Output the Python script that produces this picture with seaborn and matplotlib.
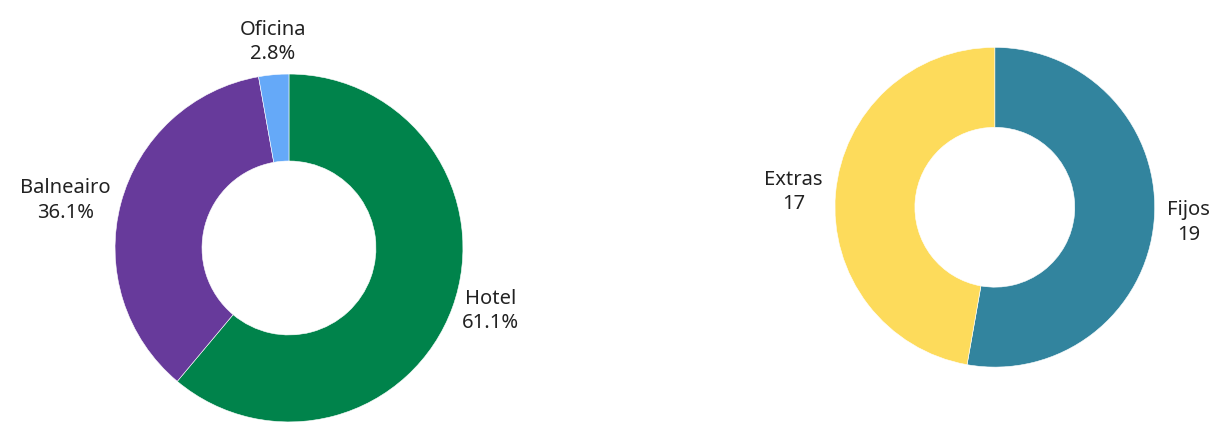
import numpy as np
import seaborn as sns
import matplotlib
matplotlib.use("Agg")
import matplotlib.pyplot as plt

# datos de los dos anillos
area_labels = ["Hotel", "Balneairo", "Oficina"]
area_pct = [61.1, 36.1, 2.8]
area_colors = ["#00834b", "#673a9b", "#65a9f8"]

tipo_labels = ["Fijos", "Extras"]
tipo_vals = [19, 17]
tipo_colors = ["#32849e", "#fddb5b"]

sns.set_theme(style="white")
plt.rcParams['font.family'] = ['Noto Sans', 'DejaVu Sans']

fig = plt.figure(figsize=(12.25, 4.34), dpi=100)
fig.patch.set_facecolor("white")


def donut(ax, vals, labels, colors, texts, dist=1.1):
    wedges, _ = ax.pie(vals, colors=colors, startangle=90, counterclock=False,
                       radius=1, wedgeprops=dict(width=0.5, edgecolor="white", linewidth=0.4))
    for w, t in zip(wedges, texts):
        ang = np.deg2rad((w.theta1 + w.theta2) / 2)
        c, s = np.cos(ang), np.sin(ang)
        ha = "left" if c > 0.3 else ("right" if c < -0.3 else "center")
        va = "bottom" if s > 0.7 else ("top" if s < -0.7 else "center")
        ax.text(dist * c, dist * s, t, ha=ha, va=va, multialignment="center",
                fontsize=14.5, color="#222222", linespacing=1.3)
    ax.set_xlim(-1, 1)
    ax.set_ylim(-1, 1)
    ax.set_aspect("equal")
    ax.axis("off")


ax1 = fig.add_axes([0.0939, 0.0276, 0.284, 0.802])
donut(ax1, area_pct, area_labels, area_colors,
      [f"{l}\n{v}%" for l, v in zip(area_labels, area_pct)], dist=1.06)

ax2 = fig.add_axes([0.6816, 0.154, 0.261, 0.737])
donut(ax2, tipo_vals, tipo_labels, tipo_colors,
      [f"{l}\n{v}" for l, v in zip(tipo_labels, tipo_vals)], dist=1.08)

fig.savefig("out.png", dpi=100, facecolor="white")
